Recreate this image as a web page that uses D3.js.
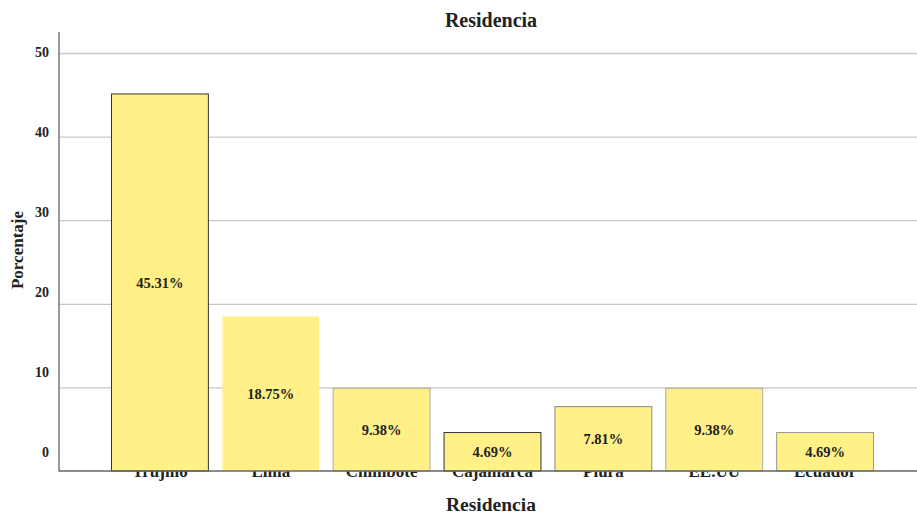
<!DOCTYPE html>
<html><head><meta charset="utf-8">
<script src="https://cdn.jsdelivr.net/npm/d3@7/dist/d3.min.js"></script>
<style>
body{margin:0;background:#fff;}
svg text{font-family:"Liberation Serif","Times New Roman",serif;font-weight:bold;fill:#222;}
</style></head>
<body>
<script>
const categories = ["Trujillo","Lima","Chimbote","Cajamarca","Piura","EE.UU","Ecuador"];
const barValues = [45.1, 18.5, 9.9, 4.6, 7.7, 9.9, 4.6];
const barLabels = ["45.31%","18.75%","9.38%","4.69%","7.81%","9.38%","4.69%"];
const yTicks = [0,10,20,30,40,50];
const title = "Residencia";
const xTitle = "Residencia";
const yTitle = "Porcentaje";

const W = 917, H = 516;
const svg = d3.select("body").append("svg").attr("width",W).attr("height",H);

const x = d3.scaleBand().domain(categories).range([104.5,880.5]).paddingInner(0.126).paddingOuter(0.063);
const y = d3.scaleLinear().domain([0,50]).range([471,53]);
// tick labels in the reference sit on a slightly compressed spacing
const yLab = d3.scaleLinear().domain([0,50]).range([452,52]);

// gridlines
svg.append("g").attr("transform","translate(59,0)")
  .call(d3.axisLeft(y).tickValues(yTicks.filter(d=>d>0)).tickSize(-858).tickFormat(""))
  .call(g=>g.select(".domain").remove())
  .call(g=>g.selectAll("line").attr("stroke","#c8c8c8").attr("stroke-width",1.3));

// y tick labels
svg.append("g").selectAll("text").data(yTicks).join("text")
  .attr("x",49).attr("y",d=>yLab(d)).attr("dy","0.35em")
  .attr("text-anchor","end").attr("font-size",14).text(d=>d);

// category labels (drawn beneath bars, as in the reference)
svg.append("g").attr("transform","translate(0,477)")
  .call(d3.axisBottom(x).tickSize(0).tickPadding(0))
  .call(g=>g.select(".domain").remove())
  .call(g=>g.selectAll("text").attr("font-size",17).attr("dy",0).attr("y",0)
      .style("font-family","'Liberation Serif',serif").style("font-weight","bold").attr("fill","#222"));

const strokes = ["#333","none","#aaa","#333","#888","#aaa","#999"];
svg.append("g").selectAll("rect").data(categories).join("rect")
  .attr("x",d=>x(d)).attr("width",x.bandwidth())
  .attr("y",(d,i)=>y(barValues[i])).attr("height",(d,i)=>y(0)-y(barValues[i]))
  .attr("fill","#fff087").attr("stroke",(d,i)=>strokes[i]).attr("stroke-width",1);

// percent labels
svg.append("g").selectAll("text").data(categories).join("text")
  .attr("x",d=>x(d)+x.bandwidth()/2)
  .attr("y",(d,i)=>(y(barValues[i])+y(0))/2).attr("dy","0.35em")
  .attr("text-anchor","middle").attr("font-size",14.5).text((d,i)=>barLabels[i]);

// axes lines
svg.append("line").attr("x1",59).attr("x2",59).attr("y1",32).attr("y2",471.5).attr("stroke","#555").attr("stroke-width",1.2);
svg.append("line").attr("x1",59).attr("x2",917).attr("y1",471).attr("y2",471).attr("stroke","#666").attr("stroke-width",1.3);

svg.append("text").attr("x",491).attr("y",27).attr("text-anchor","middle").attr("font-size",20).text(title);
svg.append("text").attr("x",491).attr("y",511).attr("text-anchor","middle").attr("font-size",19.5).text(xTitle);
svg.append("text").attr("transform","translate(23,250) rotate(-90)").attr("text-anchor","middle").attr("font-size",17).text(yTitle);
</script>
</body></html>
